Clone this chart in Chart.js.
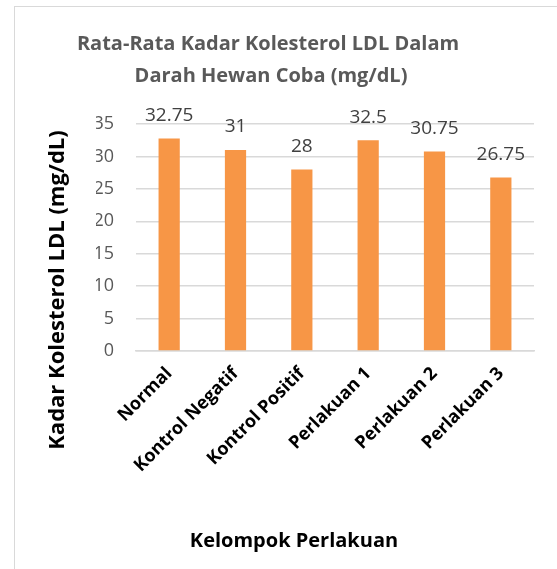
<!DOCTYPE html>
<html>
<head>
<meta charset="utf-8">
<script src="https://cdn.jsdelivr.net/npm/chart.js@4.4.0/dist/chart.umd.min.js"></script>
<style>
  html, body { margin: 0; padding: 0; background: #fff; }
  #wrap { position: relative; width: 557px; height: 569px; overflow: hidden; }
  #frame { position: absolute; left: 14px; top: 6px; width: 600px; height: 600px; border: 1px solid #d9d9d9; box-sizing: border-box; }
  canvas { position: absolute; left: 0; top: 0; }
</style>
</head>
<body>
<div id="wrap">
  <div id="frame"></div>
  <canvas id="ldl-chart" width="557" height="569"></canvas>
</div>
<script>
const categories = ["Normal", "Kontrol Negatif", "Kontrol Positif", "Perlakuan 1", "Perlakuan 2", "Perlakuan 3"];
const ldlValues = [32.75, 31, 28, 32.5, 30.75, 26.75];
const yTicks = [0, 5, 10, 15, 20, 25, 30, 35];

const titleLines = ["Rata-Rata Kadar Kolesterol LDL Dalam", "Darah Hewan Coba (mg/dL)"];
const yTitle = "Kadar Kolesterol LDL (mg/dL)";
const xTitle = "Kelompok Perlakuan";

const FONT = "'Open Sans', 'Noto Sans', sans-serif";

// draws the title, axis titles and the value labels
const textPlugin = {
  id: "textPlugin",
  afterDatasetsDraw(chart) {
    const ctx = chart.ctx;
    ctx.save();
    ctx.textAlign = "center";
    ctx.textBaseline = "middle";

    // value labels above bars
    ctx.fillStyle = "#404040";
    ctx.font = "19px " + FONT;
    chart.getDatasetMeta(0).data.forEach((bar, i) => {
      ctx.fillText(String(ldlValues[i]), bar.x, bar.y - 23);
    });

    // chart title
    ctx.fillStyle = "#595959";
    ctx.font = "bold 20px " + FONT;
    ctx.fillText(titleLines[0], 268, 44);
    ctx.fillText(titleLines[1], 271, 76);

    // x axis title
    ctx.fillStyle = "#000";
    ctx.font = "bold 20px " + FONT;
    ctx.fillText(xTitle, 294, 541);

    // y axis title
    ctx.translate(58, 290);
    ctx.rotate(-Math.PI / 2);
    ctx.font = "bold 22px " + FONT;
    ctx.fillText(yTitle, 0, 0);
    ctx.restore();
  },
};

new Chart(document.getElementById("ldl-chart"), {
  type: "bar",
  data: {
    labels: categories,
    datasets: [
      {
        data: ldlValues,
        backgroundColor: "#f79646",
        borderWidth: 0,
        barPercentage: 0.32,
        categoryPercentage: 1,
      },
    ],
  },
  options: {
    responsive: false,
    animation: false,
    layout: { padding: { left: 96, right: 23, top: 124, bottom: 0 } },
    plugins: {
      legend: { display: false },
      tooltip: { enabled: false },
    },
    scales: {
      y: {
        min: 0,
        max: 35,
        afterFit: (scale) => { scale.width = 40; },
        afterBuildTicks: (scale) => { scale.ticks = yTicks.map((v) => ({ value: v })); },
        border: { display: false },
        grid: { color: "#d9d9d9", lineWidth: 1.5, drawTicks: false },
        ticks: { color: "#595959", font: { family: FONT, size: 18 }, padding: 22 },
      },
      x: {
        afterFit: (scale) => { scale.height = 569 - 351; },
        border: { color: "#d9d9d9", width: 1.5 },
        grid: { display: false, drawTicks: false },
        ticks: {
          color: "#000",
          font: { family: FONT, size: 18, weight: "bold" },
          minRotation: 45,
          maxRotation: 45,
          padding: 12,
        },
      },
    },
  },
  plugins: [textPlugin],
});
</script>
</body>
</html>
